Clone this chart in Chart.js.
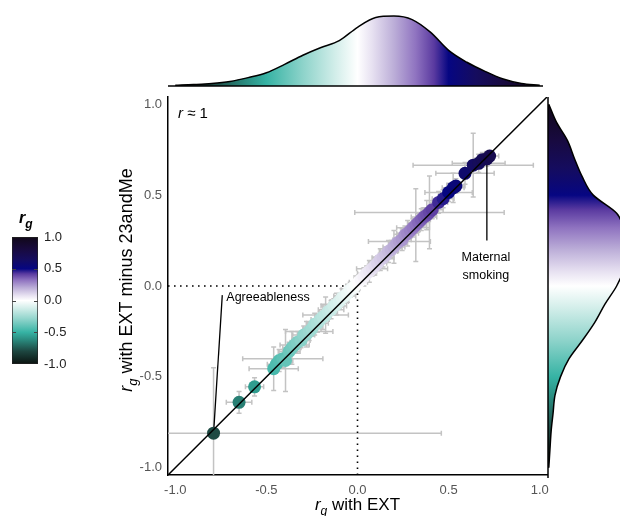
<!DOCTYPE html>
<html><head><meta charset="utf-8">
<script src="https://cdn.jsdelivr.net/npm/chart.js@4/dist/chart.umd.min.js"></script>
<style>
html,body{margin:0;padding:0;background:#fff;}
#wrap{position:relative;width:620px;height:516px;overflow:hidden;background:#fff;}
canvas{position:absolute;}
</style></head><body>
<div id="wrap">
<canvas id="main" width="620" height="516" style="left:0;top:0;"></canvas>
<canvas id="topd" width="620" height="100" style="left:0;top:0;"></canvas>
<canvas id="rightd" width="620" height="516" style="left:0;top:0;"></canvas>
<canvas id="cbar" width="110" height="190" style="left:0;top:200px;"></canvas>
</div>
<script>
// ---------- DATA ----------
const axisTicks = [-1.0, -0.5, 0.0, 0.5, 1.0];
const colorbarTicks = [-1.0, -0.5, 0.0, 0.5, 1.0];
// genetic correlations with EXT (x) and with EXT minus 23andMe (y)
const rgEXT = [-0.79,-0.65,-0.565,-0.46,-0.445,-0.43,-0.41,-0.395,-0.375,-0.36,-0.345,-0.33,-0.31,-0.295,-0.28,-0.265,-0.25,-0.235,-0.22,-0.205,-0.19,-0.175,-0.16,-0.145,-0.13,-0.115,-0.10,-0.085,-0.07,-0.055,-0.04,-0.025,-0.01,0.005,0.02,0.035,0.05,0.065,0.08,0.095,0.11,0.125,0.14,0.155,0.17,0.185,0.20,0.215,0.23,0.245,0.26,0.275,0.29,0.305,0.32,0.335,0.35,0.365,0.38,0.395,0.41,0.445,0.47,0.50,0.525,0.54,0.59,0.635,0.665,0.685,0.71,0.725];
const rgEXTminus = [-0.81,-0.64,-0.555,-0.455,-0.43,-0.41,-0.40,-0.41,-0.36,-0.34,-0.325,-0.31,-0.30,-0.27,-0.265,-0.25,-0.235,-0.21,-0.205,-0.185,-0.17,-0.16,-0.14,-0.13,-0.11,-0.10,-0.085,-0.065,-0.055,-0.04,-0.02,-0.01,0.005,0.02,0.035,0.05,0.07,0.08,0.095,0.11,0.125,0.145,0.155,0.17,0.19,0.20,0.215,0.235,0.245,0.255,0.28,0.29,0.305,0.32,0.335,0.35,0.365,0.38,0.39,0.405,0.42,0.46,0.48,0.515,0.54,0.55,0.62,0.665,0.675,0.695,0.70,0.715];
const seEXT = [1.25,0.07,0.05,0.135,0.05,0.04,0.22,0.04,0.06,0.05,0.08,0.04,0.05,0.06,0.04,0.13,0.05,0.04,0.06,0.05,0.04,0.125,0.05,0.07,0.07,0.04,0.05,0.04,0.06,0.03,0.05,0.04,0.03,0.05,0.04,0.03,0.05,0.04,0.085,0.04,0.05,0.04,0.06,0.04,0.05,0.04,0.06,0.04,0.17,0.05,0.04,0.06,0.05,0.09,0.04,0.06,0.05,0.07,0.05,0.41,0.06,0.05,0.06,0.13,0.06,0.05,0.16,0.33,0.145,0.04,0.03,0.05];
const seEXTminus = [0.36,0.06,0.05,0.12,0.04,0.06,0.05,0.17,0.05,0.09,0.04,0.06,0.04,0.05,0.07,0.05,0.04,0.06,0.05,0.04,0.07,0.10,0.04,0.05,0.04,0.06,0.04,0.05,0.04,0.05,0.04,0.03,0.05,0.04,0.03,0.05,0.04,0.06,0.04,0.05,0.04,0.06,0.05,0.04,0.06,0.05,0.09,0.05,0.04,0.06,0.05,0.07,0.04,0.05,0.20,0.05,0.06,0.05,0.08,0.20,0.05,0.06,0.05,0.05,0.08,0.04,0.06,0.175,0.05,0.04,0.04,0.03];
// marginal densities (relative height) on a grid of r_g values
const densGrid = [-1.0,-0.9,-0.8,-0.7,-0.6,-0.5,-0.4,-0.3,-0.2,-0.1,0.0,0.1,0.2,0.3,0.4,0.5,0.6,0.7,0.8,0.9,1.0];
const densEXT = [0.01,0.02,0.035,0.065,0.12,0.19,0.31,0.44,0.55,0.65,0.84,0.98,1.0,0.95,0.77,0.51,0.34,0.21,0.10,0.035,0.01];
const densEXTminus = [0.01,0.025,0.04,0.065,0.09,0.16,0.27,0.44,0.60,0.73,0.88,0.98,1.0,0.98,0.88,0.58,0.44,0.34,0.25,0.11,0.01];
// annotations
const labelAgree = {name:'Agreeableness', idx:0, x:-0.742, y:-0.05};
const labelSmoke = {name:['Maternal','smoking'], idx:70, x:0.71, y:0.25};
const rNote = {x:-0.985, y:0.95};
const AX_MIN = -1.04, AX_MAX = 1.04;

// ---------- STYLE ----------
const FONT = "'Liberation Sans', Arial, Helvetica, sans-serif";
const cmapStops = [[-1,'#0b1310'],[-0.8,'#1d4640'],[-0.62,'#2a8a7e'],[-0.5,'#36b3a4'],[-0.3,'#8dd3ca'],[-0.12,'#d3eeea'],[0,'#ffffff'],[0.08,'#e7e1f1'],[0.2,'#bcaed8'],[0.32,'#8f73c0'],[0.42,'#5a3aa0'],[0.5,'#060682'],[0.65,'#150c5e'],[0.8,'#180a40'],[1,'#110818']];
function h2r(h){return [parseInt(h.slice(1,3),16),parseInt(h.slice(3,5),16),parseInt(h.slice(5,7),16)];}
function cmap(v){
  v = Math.max(-1, Math.min(1, v));
  for (let i=0;i<cmapStops.length-1;i++){
    const [a,ca]=cmapStops[i],[b,cb]=cmapStops[i+1];
    if (v>=a && v<=b){
      const t=(v-a)/(b-a), A=h2r(ca), B=h2r(cb);
      return 'rgb('+A.map((c,k)=>Math.round(c+(B[k]-c)*t)).join(',')+')';
    }
  }
  return cmapStops[cmapStops.length-1][1];
}
function addStops(g){ cmapStops.forEach(([v,c])=>g.addColorStop((v+1)/2, c)); return g; }

function drawRg(ctx, x, y, rest, size, bold){
  const b = bold ? 'bold ' : '';
  ctx.font = 'italic '+b+size+'px '+FONT;
  ctx.fillText('r', x, y);
  let w = ctx.measureText('r').width;
  ctx.font = 'italic '+b+Math.round(size*0.72)+'px '+FONT;
  ctx.fillText('g', x+w, y+size*0.3);
  w += ctx.measureText('g').width;
  if (rest){ ctx.font = size+'px '+FONT; ctx.fillText(rest, x+w, y); w += ctx.measureText(rest).width; }
  return w;
}
function rgWidth(ctx, rest, size){
  ctx.font='italic '+size+'px '+FONT; let w=ctx.measureText('r').width;
  ctx.font='italic '+Math.round(size*0.72)+'px '+FONT; w+=ctx.measureText('g').width;
  ctx.font=size+'px '+FONT; w+=ctx.measureText(rest).width; return w;
}

// ---------- MAIN SCATTER ----------
const errPlugin = {id:'errbars', beforeDatasetsDraw(chart){
  const {ctx, chartArea:a, scales:{x,y}} = chart;
  ctx.save();
  ctx.beginPath(); ctx.rect(a.left, a.top, a.right-a.left, a.bottom-a.top); ctx.clip();
  ctx.strokeStyle = '#c3c3c3'; ctx.lineWidth = 1.5;
  const cap = 2.5;
  rgEXT.forEach((vx,i)=>{
    const vy = rgEXTminus[i];
    const px = x.getPixelForValue(vx), py = y.getPixelForValue(vy);
    const x0 = x.getPixelForValue(vx-seEXT[i]), x1 = x.getPixelForValue(vx+seEXT[i]);
    const y0 = y.getPixelForValue(vy-seEXTminus[i]), y1 = y.getPixelForValue(vy+seEXTminus[i]);
    ctx.beginPath();
    ctx.moveTo(x0,py); ctx.lineTo(x1,py);
    ctx.moveTo(x0,py-cap); ctx.lineTo(x0,py+cap);
    ctx.moveTo(x1,py-cap); ctx.lineTo(x1,py+cap);
    ctx.moveTo(px,y0); ctx.lineTo(px,y1);
    ctx.moveTo(px-cap,y0); ctx.lineTo(px+cap,y0);
    ctx.moveTo(px-cap,y1); ctx.lineTo(px+cap,y1);
    ctx.stroke();
  });
  ctx.restore();
}};
const textPlugin = {id:'texts', afterDraw(chart){
  const {ctx, chartArea:a, scales:{x,y}} = chart;
  ctx.save();
  ctx.fillStyle = '#000'; ctx.textBaseline = 'alphabetic'; ctx.textAlign = 'left';
  // r ≈ 1
  let px = x.getPixelForValue(rNote.x), py = y.getPixelForValue(rNote.y)+5;
  ctx.font = 'italic 15px '+FONT; ctx.fillText('r', px, py);
  let w = ctx.measureText('r').width;
  ctx.font = '15px '+FONT; ctx.fillText(' \u2248 1', px+w, py);
  // annotations
  ctx.font = '12.5px '+FONT;
  ctx.fillText(labelAgree.name, x.getPixelForValue(labelAgree.x)+4, y.getPixelForValue(labelAgree.y)+6);
  ctx.textAlign = 'center';
  const sx = x.getPixelForValue(labelSmoke.x)-1, sy = y.getPixelForValue(labelSmoke.y);
  ctx.fillText(labelSmoke.name[0], sx, sy+20);
  ctx.fillText(labelSmoke.name[1], sx, sy+38);
  ctx.textAlign = 'left';
  // x title
  const xt = ' with EXT';
  const xw = rgWidth(ctx, xt, 17);
  drawRg(ctx, (a.left+a.right)/2 - xw/2, a.bottom+35, xt, 17);
  // y title
  const yt = ' with EXT minus 23andMe';
  const yw = rgWidth(ctx, yt, 18);
  ctx.translate(a.left-36, 280); ctx.rotate(-Math.PI/2);
  drawRg(ctx, -yw/2, 0, yt, 18);
  ctx.restore();
}};

const tickCfg = {color:'#555', font:{family:FONT, size:13}, callback:v=>Number(v).toFixed(1), autoSkip:false, maxRotation:0};
new Chart(document.getElementById('main'), {
  type:'scatter',
  data:{datasets:[
    {label:'identity', data:[{x:AX_MIN,y:AX_MIN},{x:AX_MAX,y:AX_MAX}], showLine:true, borderColor:'#000', borderWidth:1.5, pointRadius:0, order:0},
    {label:'traits', data:rgEXT.map((v,i)=>({x:v,y:rgEXTminus[i]})), pointRadius:6.5, pointBackgroundColor:rgEXT.map(cmap), pointBorderWidth:0, showLine:false, order:1},
    {label:'leadA', data:[{x:rgEXT[labelAgree.idx],y:rgEXTminus[labelAgree.idx]},{x:labelAgree.x,y:labelAgree.y}], showLine:true, borderColor:'#000', borderWidth:1.3, pointRadius:0, order:2},
    {label:'leadS', data:[{x:rgEXT[labelSmoke.idx],y:rgEXTminus[labelSmoke.idx]},{x:labelSmoke.x,y:labelSmoke.y}], showLine:true, borderColor:'#000', borderWidth:1.3, pointRadius:0, order:2},
    {label:'zeroH', data:[{x:AX_MIN,y:0},{x:0,y:0}], showLine:true, borderColor:'#000', borderWidth:1.6, borderDash:[1.6,4.4], pointRadius:0, order:3},
    {label:'zeroV', data:[{x:0,y:AX_MIN},{x:0,y:0}], showLine:true, borderColor:'#000', borderWidth:1.6, borderDash:[1.6,4.4], pointRadius:0, order:3}
  ]},
  options:{
    responsive:false, animation:false, events:[],
    plugins:{legend:{display:false}, tooltip:{enabled:false}},
    layout:{padding:{left:108, right:73, top:97, bottom:11}},
    scales:{
      x:{type:'linear', min:AX_MIN, max:AX_MAX, grid:{display:false, drawTicks:false}, border:{display:true, color:'#000', width:1.5},
         ticks:Object.assign({padding:8}, tickCfg),
         afterBuildTicks:s=>{s.ticks = axisTicks.map(v=>({value:v}));}, afterFit:s=>{s.height=30;}},
      y:{type:'linear', min:AX_MIN, max:AX_MAX, grid:{display:false, drawTicks:false}, border:{display:true, color:'#000', width:1.5},
         ticks:Object.assign({padding:6}, tickCfg),
         afterBuildTicks:s=>{s.ticks = axisTicks.map(v=>({value:v}));}, afterFit:s=>{s.width=60;}}
    }
  },
  plugins:[errPlugin, textPlugin]
});

// ---------- TOP DENSITY ----------
const baseTop = {id:'baseTop', afterDatasetsDraw(chart){
  const {ctx, chartArea:a, scales:{y}} = chart;
  ctx.save(); ctx.strokeStyle='#000'; ctx.lineWidth=1.5;
  const py = y.getPixelForValue(0);
  ctx.beginPath(); ctx.moveTo(a.left, py); ctx.lineTo(a.right-4, py); ctx.stroke(); ctx.restore();
}};
new Chart(document.getElementById('topd'), {
  type:'line',
  data:{datasets:[{data:densGrid.map((v,i)=>({x:v,y:densEXT[i]})), fill:'origin',
    backgroundColor:(c)=>{const ch=c.chart; if(!ch.chartArea) return 'rgba(0,0,0,0)'; const s=ch.scales.x;
      return addStops(ch.ctx.createLinearGradient(s.getPixelForValue(-1),0,s.getPixelForValue(1),0));},
    borderColor:'#000', borderWidth:1.5, pointRadius:0, tension:0.4, cubicInterpolationMode:'monotone'}]},
  options:{responsive:false, animation:false, events:[],
    plugins:{legend:{display:false}, tooltip:{enabled:false}},
    layout:{padding:{left:168, right:73, top:14, bottom:14}},
    scales:{x:{type:'linear', min:AX_MIN, max:AX_MAX, display:false}, y:{type:'linear', min:0, max:1.03, display:false}}},
  plugins:[baseTop]
});

// ---------- RIGHT DENSITY ----------
const baseRight = {id:'baseRight', afterDatasetsDraw(chart){
  const {ctx, chartArea:a, scales:{x}} = chart;
  ctx.save(); ctx.strokeStyle='#000'; ctx.lineWidth=1.5;
  const px = x.getPixelForValue(0);
  ctx.beginPath(); ctx.moveTo(px, a.top); ctx.lineTo(px, a.bottom+3); ctx.stroke(); ctx.restore();
}};
new Chart(document.getElementById('rightd'), {
  type:'line',
  data:{datasets:[{data:densGrid.map((v,i)=>({x:densEXTminus[i],y:v})), fill:'origin',
    backgroundColor:(c)=>{const ch=c.chart; if(!ch.chartArea) return 'rgba(0,0,0,0)'; const s=ch.scales.y;
      return addStops(ch.ctx.createLinearGradient(0,s.getPixelForValue(-1),0,s.getPixelForValue(1)));},
    borderColor:'#000', borderWidth:1.5, pointRadius:0, tension:0.4, cubicInterpolationMode:'monotone'}]},
  options:{indexAxis:'y', responsive:false, animation:false, events:[],
    plugins:{legend:{display:false}, tooltip:{enabled:false}},
    layout:{padding:{left:548, right:0, top:97, bottom:41}},
    scales:{x:{type:'linear', min:0, max:0.923, display:false}, y:{type:'linear', min:AX_MIN, max:AX_MAX, display:false}}},
  plugins:[baseRight]
});

// ---------- COLORBAR ----------
const cbPlugin = {id:'cbdeco', afterDraw(chart){
  const {ctx, chartArea:a, scales:{y}} = chart;
  ctx.save();
  ctx.strokeStyle='#444'; ctx.lineWidth=1;
  [-0.5,0,0.5].forEach(v=>{const py=Math.round(y.getPixelForValue(v))+0.5;
    ctx.beginPath(); ctx.moveTo(a.left,py); ctx.lineTo(a.left+4,py); ctx.moveTo(a.right,py); ctx.lineTo(a.right-4,py); ctx.stroke();});
  ctx.fillStyle='#000'; ctx.textAlign='left'; ctx.textBaseline='alphabetic';
  drawRg(ctx, a.left+7, a.top-14, '', 16, true);
  ctx.restore();
}};
new Chart(document.getElementById('cbar'), {
  type:'bar',
  data:{labels:['rg'], datasets:[{data:[[colorbarTicks[0], colorbarTicks[colorbarTicks.length-1]]],
    backgroundColor:(c)=>{const ch=c.chart; if(!ch.chartArea) return 'rgba(0,0,0,0)'; const s=ch.scales.y;
      return addStops(ch.ctx.createLinearGradient(0,s.getPixelForValue(-1),0,s.getPixelForValue(1)));},
    borderColor:'#222', borderWidth:1, borderSkipped:false, barPercentage:1, categoryPercentage:1}]},
  options:{responsive:false, animation:false, events:[],
    plugins:{legend:{display:false}, tooltip:{enabled:false}},
    layout:{padding:{left:12, right:22, top:37, bottom:26}},
    scales:{x:{display:false},
      y:{position:'right', min:-1, max:1, grid:{display:false, drawTicks:false}, border:{display:false},
         ticks:{color:'#222', font:{family:FONT, size:13}, padding:6, callback:v=>Number(v).toFixed(1)},
         afterBuildTicks:s=>{s.ticks = colorbarTicks.map(v=>({value:v}));}, afterFit:s=>{s.width=50;}}}},
  plugins:[cbPlugin]
});
</script>
</body></html>
